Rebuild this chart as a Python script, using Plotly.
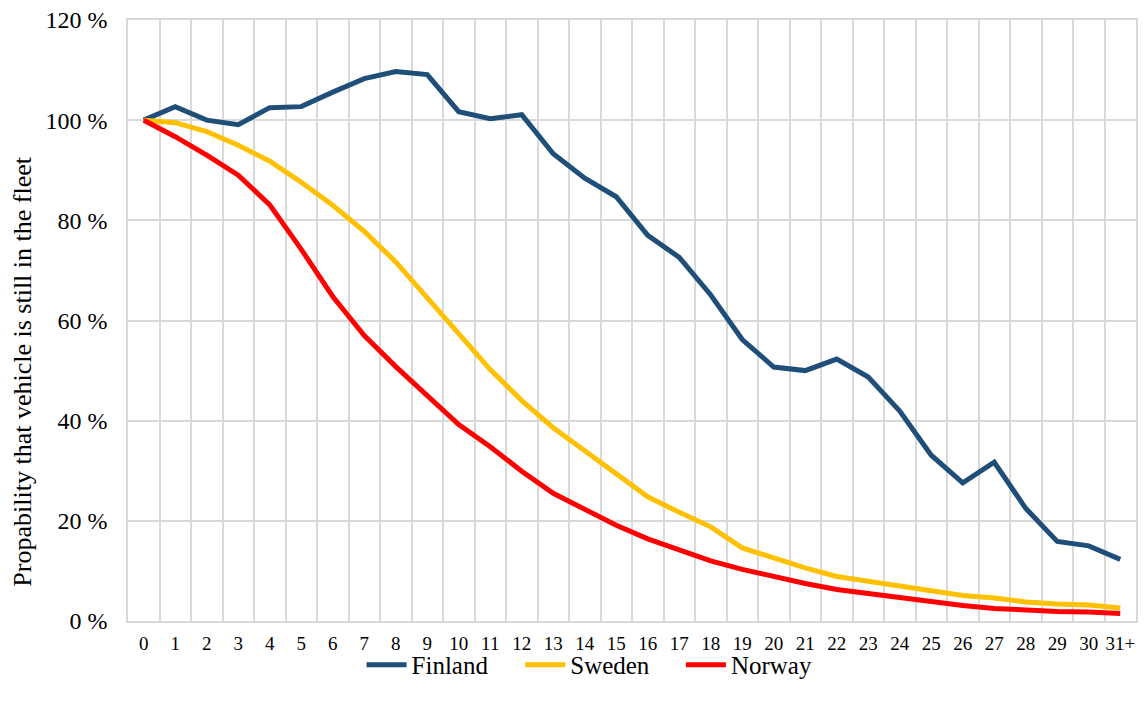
import plotly.graph_objects as go

categories = [str(i) for i in range(31)] + ["31+"]
finland = [100, 102.7, 100.0, 99.1, 102.5, 102.7, 105.6, 108.3, 109.7, 109.1, 101.7, 100.3,
           101.1, 93.3, 88.4, 84.7, 77.0, 72.6, 65.1, 56.2, 50.7, 50.0, 52.3, 48.7, 41.9,
           33.1, 27.6, 31.7, 22.5, 15.9, 15.0, 12.3]
sweden = [100, 99.5, 97.7, 95.0, 91.8, 87.6, 83.0, 77.8, 71.7, 64.6, 57.2, 50.2, 44.0, 38.6,
          34.0, 29.5, 24.8, 21.7, 18.8, 14.6, 12.6, 10.6, 8.9, 8.0, 7.1, 6.2, 5.1, 4.6, 3.8,
          3.4, 3.2, 2.6]
norway = [100, 96.7, 93.0, 89.0, 83.1, 74.2, 64.8, 57.0, 50.8, 45.1, 39.2, 34.8, 29.9, 25.5,
          22.2, 19.1, 16.4, 14.1, 12.0, 10.3, 8.8, 7.5, 6.3, 5.5, 4.6, 3.8, 3.1, 2.5, 2.1,
          1.9, 1.8, 1.5]
y_ticks = [0, 20, 40, 60, 80, 100, 120]

x = list(range(len(categories)))
FONT = "Liberation Serif, Times New Roman, serif"
GRID = "#D9D9D9"
L, R, T, B, W, H = 128, 7, 19, 85, 1145, 706
PW, PH = W - L - R, H - T - B

def px_x(p):
    return (p - L) / PW

def px_y(p):
    return (H - B - p) / PH

fig = go.Figure()
series = [("Finland", finland, "#1F4E79", "legend", 362),
          ("Sweden", sweden, "#FFC000", "legend2", 521),
          ("Norway", norway, "#FF0000", "legend3", 682)]
legend_cfg = {}
for name, vals, color, lg, lx in series:
    fig.add_trace(go.Scatter(x=x, y=vals, mode="lines", name=name, legend=lg,
                             line=dict(color=color, width=5)))
    legend_cfg[lg] = dict(orientation="h", x=px_x(lx), xanchor="left",
                          y=px_y(665), yanchor="middle", bgcolor="rgba(0,0,0,0)",
                          font=dict(size=25, family=FONT), itemwidth=40)

fig.update_layout(
    width=W, height=H,
    margin=dict(l=L, r=R, t=T, b=B),
    paper_bgcolor="white", plot_bgcolor="white",
    font=dict(family=FONT, color="black"),
    showlegend=True,
    **legend_cfg,
)
fig.update_xaxes(
    range=[-0.5, 31.5], tickmode="array", tickvals=x, ticktext=categories,
    showgrid=False, zeroline=False, tickfont=dict(size=19, family=FONT),
    ticks="", ticklabelstandoff=4,
    showline=True, linecolor=GRID, linewidth=1.5, mirror=True,
    minor=dict(tick0=-0.5, dtick=1, showgrid=True, gridcolor=GRID, gridwidth=1.5, ticks=""),
)
fig.update_yaxes(
    range=[0, 120], tickmode="array", tickvals=y_ticks,
    ticktext=[f"{v} %" for v in y_ticks],
    showgrid=True, gridcolor=GRID, gridwidth=1.5, zeroline=False,
    tickfont=dict(size=24, family=FONT), ticks="", ticklabelstandoff=14,
    showline=True, linecolor=GRID, linewidth=1.5, mirror=True,
)
fig.add_annotation(
    text="Propability that vehicle is still in the fleet", textangle=-90,
    xref="paper", yref="paper", x=px_x(22), y=px_y(371),
    xanchor="center", yanchor="middle", showarrow=False,
    font=dict(size=26, family=FONT, color="black"),
)

fig.write_html("out.html")
